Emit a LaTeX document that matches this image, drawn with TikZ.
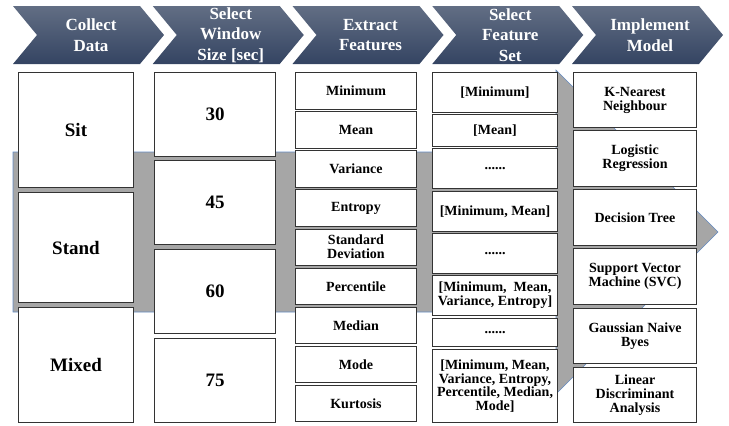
\documentclass[tikz,border=0pt]{standalone}
\usepackage{fontspec}
\setmainfont{Liberation Serif}
\usepackage{xcolor}

\definecolor{chevtop}{RGB}{98,110,132}
\definecolor{chevbot}{RGB}{52,68,98}
\definecolor{flowgray}{RGB}{166,166,166}
\definecolor{flowedge}{RGB}{100,140,195}

\begin{document}
\begin{tikzpicture}[x=1pt, y=-1pt,
  cell/.style={rectangle, draw=black!80, line width=0.9pt, fill=white, align=center, inner sep=1pt, font=\bfseries\fontsize{14}{14}\selectfont},
  bigcell/.style={cell, font=\bfseries\fontsize{19}{22}\selectfont},
  header/.style={align=center, text=white, font=\bfseries\fontsize{17}{20.5}\selectfont}]
\useasboundingbox (0,0) rectangle (729,426);

% grey flow arrow behind the columns
\draw[fill=flowgray, draw=flowedge, line width=0.6pt] (13,152) -- (556,152) -- (556,70) -- (718,232) -- (556,394) -- (556,312) -- (13,312) -- cycle;

% step chevrons
\foreach \i/\x/\txt in {1/13/{Collect\\Data}, 2/152.75/{Select\\Window\\Size [sec]}, 3/292.5/{Extract\\Features}, 4/432.25/{Select\\Feature\\Set}, 5/572/{Implement\\Model}}{
  \shade[top color=chevtop, bottom color=chevbot] (\x,6) -- ++(127,0) -- ++(24,29) -- ++(-24,29) -- ++(-127,0) -- ++(24,-29) -- cycle;
  \node[header] (hdr\i) at (\x+78,35) {\txt};
}

% collect data
\node[bigcell, minimum width=115pt, minimum height=115pt] (sit) at (76,130) {Sit};
\node[bigcell, minimum width=115pt, minimum height=110pt] (stand) at (76,247.5) {Stand};
\node[bigcell, minimum width=115pt, minimum height=115pt] (mixed) at (76,365) {Mixed};

% window size
\node[bigcell, minimum width=121pt, minimum height=84pt] (w30) at (215,114.5) {30};
\node[bigcell, minimum width=121pt, minimum height=84pt] (w45) at (215,202.5) {45};
\node[bigcell, minimum width=121pt, minimum height=84pt] (w60) at (215,291.5) {60};
\node[bigcell, minimum width=121pt, minimum height=84pt] (w75) at (215,380.5) {75};

% features
\node[cell, minimum width=121pt, minimum height=36.5pt] (fmin) at (356,90.8) {Minimum};
\node[cell, minimum width=121pt, minimum height=36.5pt] (fmean) at (356,129.9) {Mean};
\node[cell, minimum width=121pt, minimum height=36.5pt] (fvar) at (356,169.0) {Variance};
\node[cell, minimum width=121pt, minimum height=36.5pt] (fent) at (356,208.1) {Entropy};
\node[cell, minimum width=121pt, minimum height=36.5pt] (fstd) at (356,247.2) {Standard\\Deviation};
\node[cell, minimum width=121pt, minimum height=36.5pt] (fperc) at (356,286.3) {Percentile};
\node[cell, minimum width=121pt, minimum height=36.5pt] (fmed) at (356,325.4) {Median};
\node[cell, minimum width=121pt, minimum height=36.5pt] (fmode) at (356,364.5) {Mode};
\node[cell, minimum width=121pt, minimum height=36.5pt] (fkurt) at (356,403.6) {Kurtosis};

% feature sets
\node[cell, minimum width=125pt, minimum height=40pt] (s1) at (495,92.5) {[Minimum]};
\node[cell, minimum width=125pt, minimum height=32pt] (s2) at (495,130.5) {[Mean]};
\node[cell, minimum width=125pt, minimum height=40pt] (s3) at (495,168.5) {......};
\node[cell, minimum width=125pt, minimum height=40pt] (s4) at (495,211.5) {[Minimum, Mean]};
\node[cell, minimum width=125pt, minimum height=40pt] (s5) at (495,253.5) {......};
\node[cell, minimum width=125pt, minimum height=40pt] (s6) at (495,295.5) {[Minimum,~ Mean,\\Variance, Entropy]};
\node[cell, minimum width=125pt, minimum height=28pt] (s7) at (495,332.5) {......};
\node[cell, minimum width=125pt, minimum height=73pt, font=\bfseries\fontsize{14}{13.5}\selectfont] (s8) at (495,386) {[Minimum, Mean,\\Variance, Entropy,\\Percentile, Median,\\Mode]};

% models
\node[cell, minimum width=123pt, minimum height=55pt] (knn) at (635,100) {K-Nearest\\Neighbour};
\node[cell, minimum width=123pt, minimum height=56pt] (lr) at (635,158.5) {Logistic\\Regression};
\node[cell, minimum width=123pt, minimum height=56pt] (dt) at (635,217.5) {Decision Tree};
\node[cell, minimum width=123pt, minimum height=56pt] (svc) at (635,276.5) {Support Vector\\Machine (SVC)};
\node[cell, minimum width=123pt, minimum height=55pt] (gnb) at (635,336) {Gaussian Naive\\Byes};
\node[cell, minimum width=123pt, minimum height=55pt] (lda) at (635,395) {Linear\\Discriminant\\Analysis};
\end{tikzpicture}
\end{document}
